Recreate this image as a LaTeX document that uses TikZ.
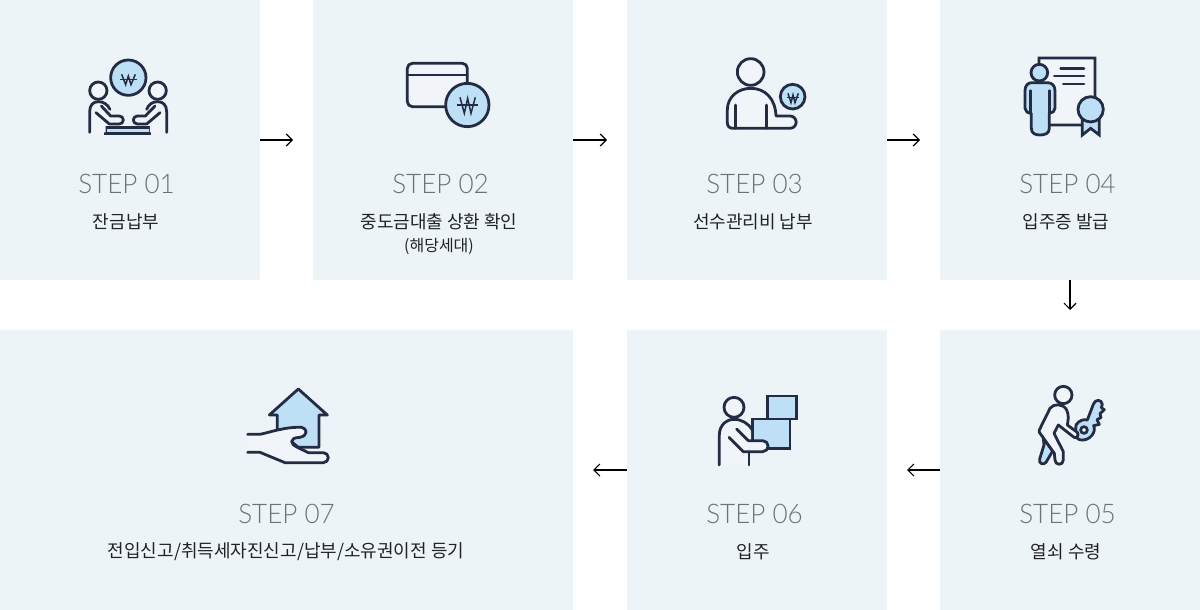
\documentclass[tikz,border=0pt]{standalone}
\usepackage{fontspec}
\usetikzlibrary{arrows.meta}
\setmainfont{Noto Sans CJK KR}
\newfontfamily\stepfont[FakeStretch=0.965]{Lato Light}
\definecolor{panel}{HTML}{EDF4F8}
\definecolor{ink}{HTML}{232C42}
\definecolor{sky}{HTML}{BDE0F7}
\definecolor{pale}{HTML}{F1F5F9}
\definecolor{steptxt}{HTML}{6E7276}
\definecolor{lbl}{HTML}{222222}
\tikzset{
 stage/.style={fill=panel,draw=none,inner sep=0pt,outer sep=0pt,anchor=north west,minimum height=280pt},
 wide/.style={minimum width=260pt},
 steplabel/.style={inner sep=0pt,text=steptxt,font=\stepfont\fontsize{27}{27}\selectfont},
 namelabel/.style={inner sep=0pt,text=lbl,font=\fontsize{18}{18}\selectfont},
 sublabel/.style={inner sep=0pt,text=lbl,font=\fontsize{16}{16}\selectfont},
 flow/.style={draw=black,line width=1.2pt,-{Straight Barb[length=6pt,width=12pt,line width=1.2pt]}},
 icon/.style={x=0.3333pt,y=-0.3333pt,line width=2.8pt,draw=ink,line join=round,line cap=round},
 wonmark/.style={line width=1.5pt,line cap=butt,line join=miter},
}
\begin{document}
\begin{tikzpicture}[x=1pt,y=-1pt]
\useasboundingbox (0,0) rectangle (1200,610);
\fill[white] (0,0) rectangle (1200,610);
\node[stage,wide] (s1) at (0,0) {};
\node[stage,wide] (s2) at (313,0) {};
\node[stage,wide] (s3) at (627,0) {};
\node[stage,wide] (s4) at (940,0) {};
\node[stage,wide] (s5) at (940,330) {};
\node[stage,wide] (s6) at (627,330) {};
\node[stage,minimum width=573pt] (s7) at (0,330) {};
% labels
\node[steplabel] (t1) at (126.5,184) {STEP 01};
\node[steplabel] (t2) at (440.5,184) {STEP 02};
\node[steplabel] (t3) at (754.5,184) {STEP 03};
\node[steplabel] (t4) at (1067.5,184) {STEP 04};
\node[steplabel] (t5) at (1067.5,514) {STEP 05};
\node[steplabel] (t6) at (754.5,514) {STEP 06};
\node[steplabel] (t7) at (286.5,514) {STEP 07};
\node[namelabel] (n1) at (126,221.5) {잔금납부};
\node[namelabel] (n2) at (439,221.5) {중도금대출 상환 확인};
\node[sublabel] (n2b) at (439,246.5) {(해당세대)};
\node[namelabel] (n3) at (753,221.5) {선수관리비 납부};
\node[namelabel] (n4) at (1066,221.5) {입주증 발급};
\node[namelabel] (n5) at (1066,551.5) {열쇠 수령};
\node[namelabel] (n6) at (753,551.5) {입주};
\node[namelabel] (n7) at (286,551.5) {전입신고/취득세자진신고/납부/소유권이전 등기};
% connectors
\coordinate (a1) at (293,140);
\coordinate (a2) at (607,140);
\coordinate (a3) at (920,140);
\coordinate (a4) at (1070,310);
\coordinate (a5) at (907,470);
\coordinate (a6) at (593,470);
\draw[flow] (s1.east |- a1) -- (a1);
\draw[flow] (s2.east |- a2) -- (a2);
\draw[flow] (s3.east |- a3) -- (a3);
\draw[flow] (s4.south -| a4) -- (a4);
\draw[flow] (s5.west |- a5) -- (a5);
\draw[flow] (s6.west |- a6) -- (a6);
% icon 1
\begin{scope}[shift={(60,40)},icon]
\draw[fill=sky] (205,113) circle[radius=53];
\draw[wonmark] (185,103) -- (197,134) -- (205,108) -- (213,134) -- (226,103);
\draw[wonmark] (180,118) -- (231,118);
\draw[fill=sky,line join=miter] (137,262) rectangle (270,280);
\fill[pale] (89,277) -- (89,215) .. controls (89,195) and (100,185) .. (115,185) .. controls (135,185) and (150,200) .. (150,228) -- (178,228) arc[start angle=-90,end angle=90,radius=12] -- (137,252) -- (137,277) -- cycle;
\fill[pale] (320,277) -- (320,215) .. controls (320,195) and (309,185) .. (293,185) .. controls (275,185) and (260,200) .. (260,228) -- (232,228) arc[start angle=270,end angle=90,radius=12] -- (270,252) -- (270,277) -- cycle;
\draw (89,277) -- (89,215) .. controls (89,195) and (100,185) .. (115,185) .. controls (130,185) and (143,193) .. (150,208);
\draw (108,218) -- (148,252) -- (178,252) arc[start angle=90,end angle=-90,radius=12] -- (152,228) -- (124,198);
\draw (320,277) -- (320,215) .. controls (320,195) and (309,185) .. (293,185) .. controls (278,185) and (266,193) .. (260,208);
\draw (300,218) -- (260,252) -- (232,252) arc[start angle=90,end angle=270,radius=12] -- (256,228) -- (285,198);
\draw[fill=pale] (115,152) circle[radius=26];
\draw[fill=pale] (293,152) circle[radius=26];
\end{scope}
% icon 2
\begin{scope}[shift={(380,40)},icon]
\draw[fill=pale,rounded corners=5pt] (82,70) rectangle (262,200);
\draw (82,105) -- (262,105);
\draw[fill=sky] (262,195) circle[radius=65];
\draw[wonmark] (240,172) -- (253,220) -- (263,175) -- (273,220) -- (286,172);
\draw[wonmark] (232,195) -- (293,195);
\end{scope}
% icon 3
\begin{scope}[shift={(700,40)},icon]
\draw[fill=pale] (152,96) circle[radius=40];
\draw[fill=pale] (82,210) .. controls (82,170) and (115,145) .. (152,145) .. controls (195,145) and (226,175) .. (228,228) -- (270,228) arc[start angle=-90,end angle=90,radius=18.5] -- (98,265) .. controls (88,265) and (82,258) .. (82,248) -- cycle;
\draw (107,195) -- (107,265);
\draw (200,195) -- (200,265);
\draw[fill=sky] (278,170) circle[radius=37];
\draw[wonmark] (264,160) -- (273,188) -- (279,165) -- (285,188) -- (295,160);
\draw[wonmark] (260,173) -- (298,173);
\end{scope}
% icon 4
\begin{scope}[shift={(1000,40)},icon]
\draw[fill=pale,line join=miter] (117,75) -- (117,54) -- (285,54) -- (285,255) -- (120,255) -- cycle;
\draw (182,85) -- (252,85);
\draw (163,108) -- (252,108);
\draw (190,132) -- (252,132);
\draw[fill=sky,line join=miter] (247,235) -- (247,285) -- (272,265) -- (298,285) -- (298,235) -- cycle;
\draw[fill=sky] (272,208) circle[radius=38];
\draw[fill=sky] (95,128) -- (142,128) .. controls (157,128) and (165,138) .. (165,152) -- (165,205) .. controls (165,213) and (157,220) .. (148,220) -- (148,265) .. controls (148,280) and (135,285) .. (120,285) .. controls (105,285) and (94,280) .. (94,265) -- (94,220) .. controls (83,220) and (75,213) .. (75,205) -- (75,152) .. controls (75,138) and (83,128) .. (95,128) -- cycle;
\draw (92,152) -- (92,220);
\draw (148,152) -- (148,220);
\draw[fill=sky] (118,98) circle[radius=25];
\end{scope}
% icon 5
\begin{scope}[shift={(1000,375)},icon]
\draw[fill=sky] (130,190) -- (158,228) -- (138,262) .. controls (130,272) and (115,265) .. (119,252) -- (132,210) -- cycle;
\draw[fill=sky] (228,150) .. controls (238,135) and (252,132) .. (262,135) -- (280,88) .. controls (285,72) and (305,72) .. (307,88) -- (304,98) -- (313,104) -- (300,116) -- (303,128) -- (291,134) -- (298,148) -- (281,152) .. controls (290,170) and (270,197) .. (245,195) .. controls (235,195) and (228,188) .. (226,180) -- cycle;
\draw[fill=white] (252,165) circle[radius=10];
\draw[fill=pale] (118,165) -- (150,100) .. controls (160,85) and (190,85) .. (200,105) .. controls (207,120) and (205,135) .. (202,150) -- (232,172) .. controls (238,180) and (230,192) .. (222,187) -- (175,150) -- (162,175) -- (190,230) -- (190,255) .. controls (190,272) and (165,272) .. (165,255) -- (163,235) -- (118,172) -- cycle;
\draw[fill=pale] (190,60) circle[radius=26];
\end{scope}
% icon 6
\begin{scope}[shift={(690,375)},icon]
\draw[fill=sky,line join=miter] (232,63) rectangle (320,132);
\draw[fill=sky,line join=miter] (187,132) rectangle (300,220);
\fill[pale] (88,270) -- (88,180) .. controls (88,150) and (110,133) .. (132,133) .. controls (155,133) and (175,145) .. (183,170) -- (183,197) -- (218,197) arc[start angle=-90,end angle=90,radius=16.5] -- (177,230) -- (177,270) -- cycle;
\draw (88,270) -- (88,180) .. controls (88,150) and (110,133) .. (132,133) .. controls (155,133) and (175,145) .. (187,165);
\draw (140,162) -- (175,197) -- (218,197) arc[start angle=-90,end angle=90,radius=16.5] -- (160,230) -- (117,187);
\draw (177,230) -- (177,270);
\draw[fill=pale] (132,97) circle[radius=30];
\end{scope}
% icon 7
\begin{scope}[shift={(220,375)},icon]
\draw[fill=sky] (172,165) -- (172,120) -- (148,120) -- (235,42) -- (322,120) -- (297,120) -- (297,217) -- (235,217) -- cycle;
\draw[fill=pale] (83,178) -- (120,178) .. controls (150,172) and (195,155) .. (245,157) .. controls (262,160) and (265,182) .. (240,187) .. controls (222,188) and (215,192) .. (215,200) .. controls (215,212) and (240,220) .. (265,233) -- (310,233) arc[start angle=-90,end angle=90,radius=15] -- (195,263) -- (120,232) -- (83,232);
\end{scope}
\end{tikzpicture}
\end{document}
